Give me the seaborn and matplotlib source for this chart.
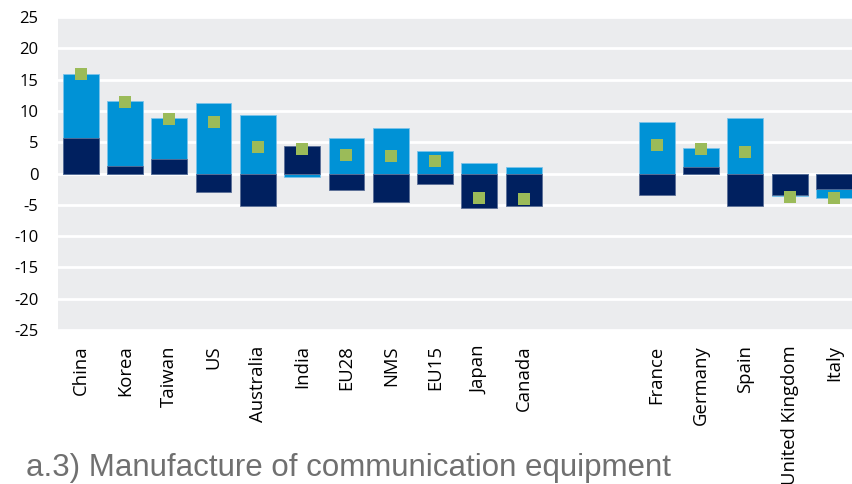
import matplotlib
matplotlib.use("Agg")
import matplotlib.pyplot as plt
import seaborn as sns
import numpy as np
import pandas as pd

countries = ["China", "Korea", "Taiwan", "US", "Australia", "India", "EU28", "NMS",
             "EU15", "Japan", "Canada", "France", "Germany", "Spain",
             "United Kingdom", "Italy"]
dark = [5.75, 1.2, 2.35, -2.9, -5.15, 4.45, -2.7, -4.5, -1.6, -5.5, -5.15,
        -3.5, 1.0, -5.2, -3.5, -2.5]
light = [10.15, 10.4, 6.45, 11.2, 9.4, -0.5, 5.7, 7.3, 3.65, 1.65, 1.0,
         8.15, 3.0, 8.8, -0.15, -1.35]
total = [15.85, 11.5, 8.75, 8.3, 4.3, 3.95, 3.0, 2.75, 2.05, -3.85, -4.15,
         4.6, 3.95, 3.5, -3.7, -3.85]
gap_slots = ["_gap1", "_gap2"]
yticks = list(range(-25, 30, 5))
title = "a.3) Manufacture of communication equipment"

order = countries[:11] + gap_slots + countries[11:]

dark_a = np.array(dark)
light_a = np.array(light)
same = np.sign(dark_a) == np.sign(light_a)
light_top = np.where(same, dark_a + light_a, light_a)

df = pd.DataFrame({"country": countries, "dark": dark, "light_top": light_top,
                   "total": total})

sns.set_theme(style="white")
plt.rcParams["font.family"] = ["Open Sans", "DejaVu Sans"]

fig = plt.figure(figsize=(8.53, 4.84), dpi=100)
ax = fig.add_axes([58 / 853, 1 - 330 / 484, 1 - 58 / 853, (330 - 17) / 484])
ax.set_facecolor("#EBECEE")

bw = 0.81
sns.barplot(data=df, x="country", y="light_top", order=order, color="#0092D6",
            saturation=1, width=bw, edgecolor="#7CC3EA", linewidth=0.6, ax=ax,
            zorder=2)
sns.barplot(data=df, x="country", y="dark", order=order, color="#00205F",
            saturation=1, width=bw, edgecolor="#5A6E96", linewidth=0.6, ax=ax,
            zorder=2)
sns.stripplot(data=df, x="country", y="total", order=order, jitter=False,
              marker="s", size=8, color="#9BBB59", linewidth=0, ax=ax,
              zorder=4)

ax.set_ylim(-25, 25)
ax.set_xlim(-0.51, 17.43)
ax.set_yticks(yticks)
ax.set_yticklabels([str(v) for v in yticks], fontsize=12, color="#000000")
ax.set_xticks(range(len(order)))
ax.set_xticklabels(["" if c.startswith("_gap") else c for c in order],
                   rotation=90, fontsize=13.3, color="#000000", va="top")
ax.tick_params(axis="y", length=0, pad=14)
ax.tick_params(axis="x", length=0, pad=11)
ax.set_xlabel("")
ax.set_ylabel("")
ax.set_axisbelow(True)
ax.yaxis.grid(True, color="white", linewidth=2)
ax.xaxis.grid(False)
for s in ax.spines.values():
    s.set_visible(False)

fig.text(26 / 853, 1 - 476 / 484, title, fontsize=22.5, color="#707070",
         family=["Liberation Sans", "DejaVu Sans"],
         va="baseline", ha="left")

fig.savefig("out.png", dpi=100)
